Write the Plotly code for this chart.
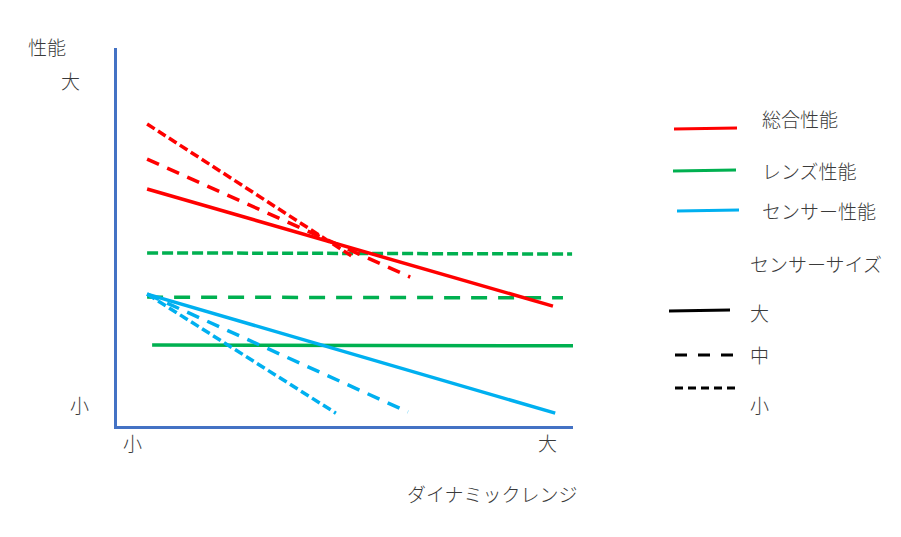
import plotly.graph_objects as go

# ---- data (schematic units: dynamic range 0-10, performance 0-10) ----
x_start = 0.66
red_solid_x = [x_start, 9.56];  red_solid_y = [6.27, 3.17]
red_mid_x = [x_start, 6.43];    red_mid_y = [7.06, 3.94]
red_small_x = [x_start, 5.18];  red_small_y = [7.99, 4.47]
green_solid_x = [0.77, 10.07];  green_solid_y = [2.14, 2.12]
green_mid_x = [x_start, 9.78];  green_mid_y = [3.41, 3.39]
green_small_x = [x_start, 9.98]; green_small_y = [4.58, 4.55]
blue_solid_x = [x_start, 9.61]; blue_solid_y = [3.49, 0.34]
blue_mid_x = [x_start, 6.38];   blue_mid_y = [3.49, 0.37]
blue_small_x = [x_start, 4.80]; blue_small_y = [3.49, 0.34]

x_tick_vals = [0.35, 9.45]
x_tick_text = ["小", "大"]
y_tick_vals = [0.56, 9.15]
y_tick_text = ["小", "大"]

legend_series = ["総合性能", "レンズ性能", "センサー性能"]
legend_sizes = ["大", "中", "小"]

W, H = 901, 537
FONT = "Noto Sans CJK JP"
TXT = "#3a3a3a"
RED, GREEN, BLUE, AXIS = "#FF0000", "#00B050", "#00B0F0", "#4472C4"
LW = 3.5
DASH_MID = "13px,9px"
DASH_SMALL = "9px,4px"

fig = go.Figure()

def add_line(x, y, color, dash, width=LW):
    fig.add_trace(go.Scatter(x=x, y=y, mode="lines",
                             line=dict(color=color, width=width, dash=dash),
                             hoverinfo="skip", xaxis="x", yaxis="y"))

add_line(green_solid_x, green_solid_y, GREEN, "solid")
add_line(green_mid_x, green_mid_y, GREEN, "16px,11px")
add_line(green_small_x, green_small_y, GREEN, "11px,4px")
add_line(blue_solid_x, blue_solid_y, BLUE, "solid")
add_line(blue_mid_x, blue_mid_y, BLUE, DASH_MID)
add_line(blue_small_x, blue_small_y, BLUE, DASH_SMALL)
add_line(red_solid_x, red_solid_y, RED, "solid")
add_line(red_mid_x, red_mid_y, RED, DASH_MID)
add_line(red_small_x, red_small_y, RED, DASH_SMALL)

# ---- custom legend on a pixel-unit helper axis ----
leg_series_lines = [([674, 737], [129, 128], RED),
                    ([673, 736], [171, 170], GREEN),
                    ([677, 739], [211, 210], BLUE)]
leg_series_text_y = [118, 170, 210]
for (lx, ly, c) in leg_series_lines:
    fig.add_trace(go.Scatter(x=lx, y=ly, mode="lines", line=dict(color=c, width=3),
                             hoverinfo="skip", xaxis="x2", yaxis="y2"))
leg_size_lines = [([669, 730], [311, 310], "solid"),
                  ([675, 735], [355, 355], "12px,11px"),
                  ([675, 738], [388, 388], "8px,5px")]
leg_size_text_y = [312, 354, 404]
for (lx, ly, d) in leg_size_lines:
    fig.add_trace(go.Scatter(x=lx, y=ly, mode="lines", line=dict(color="black", width=3, dash=d),
                             hoverinfo="skip", xaxis="x2", yaxis="y2"))

FONT_D = dict(family=FONT, size=19, color=TXT, weight=300)

ann = []
def txt(text, x, y, xref, yref, xanchor="left"):
    ann.append(dict(text=text, x=x, y=y, xref=xref, yref=yref, showarrow=False,
                    xanchor=xanchor, yanchor="middle", font=FONT_D))

for t, yy in zip(legend_series, leg_series_text_y):
    txt(t, 760, yy, "x2", "y2")
txt("センサーサイズ", 748, 263, "x2", "y2")
for t, yy in zip(legend_sizes, leg_size_text_y):
    txt(t, 748, yy, "x2", "y2")

# axis labels / ticks
for v, t in zip(x_tick_vals, x_tick_text):
    ann.append(dict(text=t, x=v, y=442, xref="x", yref="y2", showarrow=False,
                    xanchor="center", yanchor="middle", font=FONT_D))
for v, t in zip(y_tick_vals, y_tick_text):
    ann.append(dict(text=t, x=(79 if t == "小" else 70) / W, y=v, xref="paper", yref="y",
                    showarrow=False, xanchor="center", yanchor="middle", font=FONT_D))
ann.append(dict(text="性能", x=26 / W, y=1 - 47 / H, xref="paper", yref="paper", showarrow=False,
                xanchor="left", yanchor="middle", font=FONT_D))
ann.append(dict(text="ダイナミックレンジ", x=405 / W, y=1 - 493 / H, xref="paper", yref="paper",
                showarrow=False, xanchor="left", yanchor="middle", font=FONT_D))

axis_common = dict(showline=True, linecolor=AXIS, linewidth=3, showgrid=False,
                   zeroline=False, showticklabels=False, ticks="", fixedrange=True)

fig.update_layout(
    width=W, height=H, margin=dict(l=0, r=0, t=0, b=0),
    paper_bgcolor="white", plot_bgcolor="rgba(0,0,0,0)", showlegend=False,
    xaxis=dict(domain=[117 / W, 573 / W], range=[0, 10], anchor="y", **axis_common),
    yaxis=dict(domain=[1 - 426 / H, 1 - 48 / H], range=[0, 10], anchor="x", **axis_common),
    xaxis2=dict(domain=[0, 1], range=[0, W], anchor="y2", visible=False, fixedrange=True),
    yaxis2=dict(domain=[0, 1], range=[H, 0], anchor="x2", visible=False, fixedrange=True),
    annotations=ann,
)

fig.write_html("out.html", config={"displayModeBar": False})
